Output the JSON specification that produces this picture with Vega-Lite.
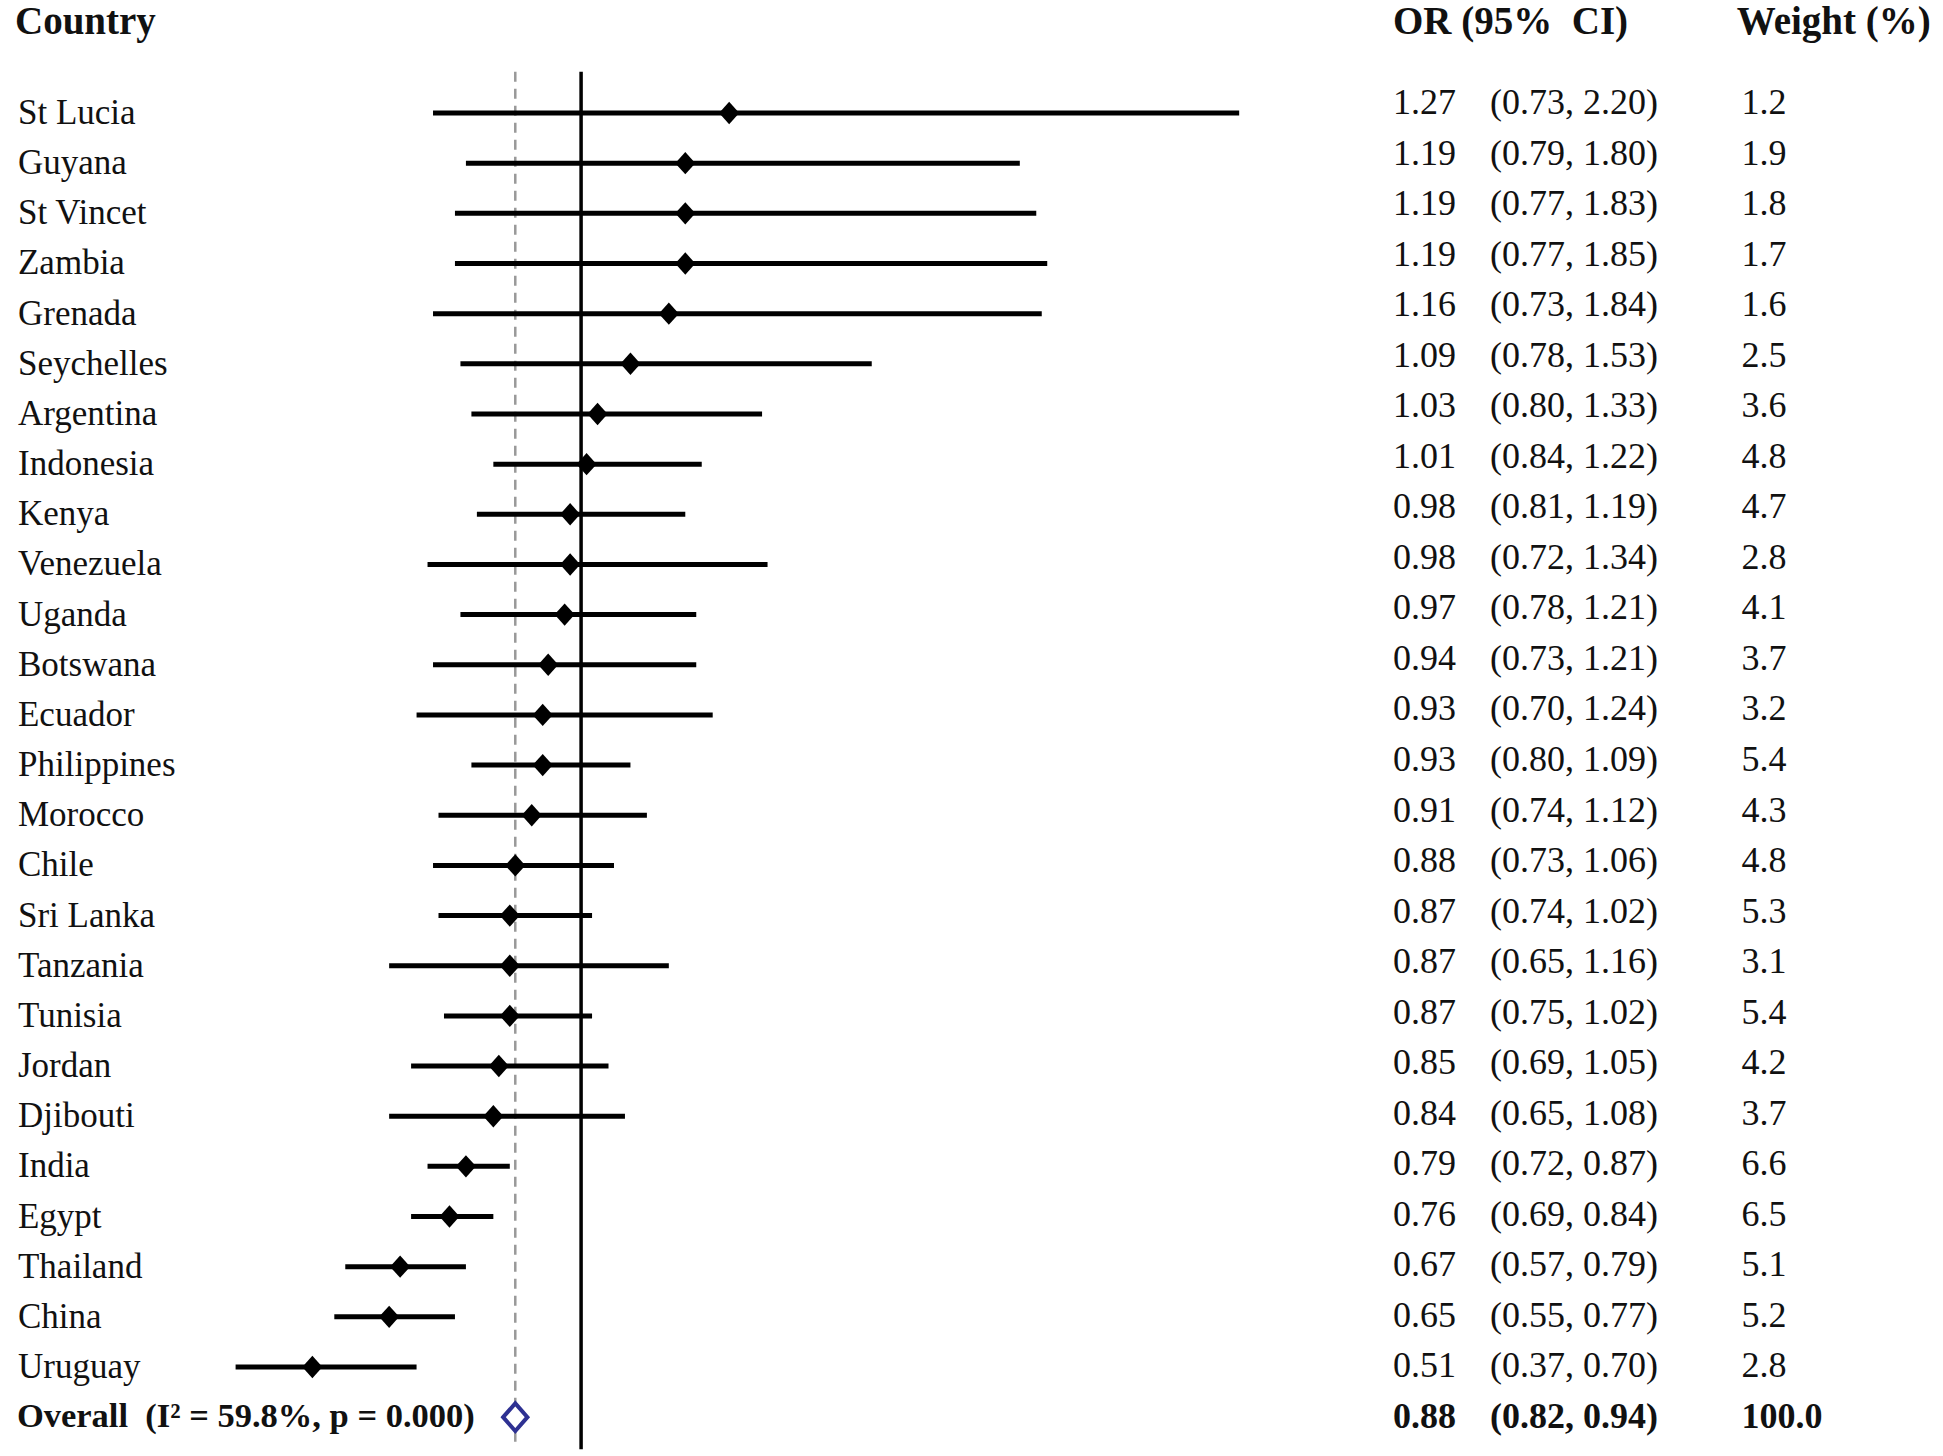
{
  "$schema": "https://vega.github.io/schema/vega-lite/v6.json",
  "width": 1943,
  "height": 1456,
  "autosize": {"type": "none"},
  "padding": 0,
  "background": "white",
  "config": {"view": {"stroke": null}, "font": "Liberation Serif", "text": {"font": "Liberation Serif"}},
  "datasets": {
    "rows": [
      {"row": 1, "country": "St Lucia", "or": 1.27, "lo": 0.73, "hi": 2.20, "ci": "(0.73, 2.20)", "weight": 1.2},
      {"row": 2, "country": "Guyana", "or": 1.19, "lo": 0.79, "hi": 1.80, "ci": "(0.79, 1.80)", "weight": 1.9},
      {"row": 3, "country": "St Vincet", "or": 1.19, "lo": 0.77, "hi": 1.83, "ci": "(0.77, 1.83)", "weight": 1.8},
      {"row": 4, "country": "Zambia", "or": 1.19, "lo": 0.77, "hi": 1.85, "ci": "(0.77, 1.85)", "weight": 1.7},
      {"row": 5, "country": "Grenada", "or": 1.16, "lo": 0.73, "hi": 1.84, "ci": "(0.73, 1.84)", "weight": 1.6},
      {"row": 6, "country": "Seychelles", "or": 1.09, "lo": 0.78, "hi": 1.53, "ci": "(0.78, 1.53)", "weight": 2.5},
      {"row": 7, "country": "Argentina", "or": 1.03, "lo": 0.80, "hi": 1.33, "ci": "(0.80, 1.33)", "weight": 3.6},
      {"row": 8, "country": "Indonesia", "or": 1.01, "lo": 0.84, "hi": 1.22, "ci": "(0.84, 1.22)", "weight": 4.8},
      {"row": 9, "country": "Kenya", "or": 0.98, "lo": 0.81, "hi": 1.19, "ci": "(0.81, 1.19)", "weight": 4.7},
      {"row": 10, "country": "Venezuela", "or": 0.98, "lo": 0.72, "hi": 1.34, "ci": "(0.72, 1.34)", "weight": 2.8},
      {"row": 11, "country": "Uganda", "or": 0.97, "lo": 0.78, "hi": 1.21, "ci": "(0.78, 1.21)", "weight": 4.1},
      {"row": 12, "country": "Botswana", "or": 0.94, "lo": 0.73, "hi": 1.21, "ci": "(0.73, 1.21)", "weight": 3.7},
      {"row": 13, "country": "Ecuador", "or": 0.93, "lo": 0.70, "hi": 1.24, "ci": "(0.70, 1.24)", "weight": 3.2},
      {"row": 14, "country": "Philippines", "or": 0.93, "lo": 0.80, "hi": 1.09, "ci": "(0.80, 1.09)", "weight": 5.4},
      {"row": 15, "country": "Morocco", "or": 0.91, "lo": 0.74, "hi": 1.12, "ci": "(0.74, 1.12)", "weight": 4.3},
      {"row": 16, "country": "Chile", "or": 0.88, "lo": 0.73, "hi": 1.06, "ci": "(0.73, 1.06)", "weight": 4.8},
      {"row": 17, "country": "Sri Lanka", "or": 0.87, "lo": 0.74, "hi": 1.02, "ci": "(0.74, 1.02)", "weight": 5.3},
      {"row": 18, "country": "Tanzania", "or": 0.87, "lo": 0.65, "hi": 1.16, "ci": "(0.65, 1.16)", "weight": 3.1},
      {"row": 19, "country": "Tunisia", "or": 0.87, "lo": 0.75, "hi": 1.02, "ci": "(0.75, 1.02)", "weight": 5.4},
      {"row": 20, "country": "Jordan", "or": 0.85, "lo": 0.69, "hi": 1.05, "ci": "(0.69, 1.05)", "weight": 4.2},
      {"row": 21, "country": "Djibouti", "or": 0.84, "lo": 0.65, "hi": 1.08, "ci": "(0.65, 1.08)", "weight": 3.7},
      {"row": 22, "country": "India", "or": 0.79, "lo": 0.72, "hi": 0.87, "ci": "(0.72, 0.87)", "weight": 6.6},
      {"row": 23, "country": "Egypt", "or": 0.76, "lo": 0.69, "hi": 0.84, "ci": "(0.69, 0.84)", "weight": 6.5},
      {"row": 24, "country": "Thailand", "or": 0.67, "lo": 0.57, "hi": 0.79, "ci": "(0.57, 0.79)", "weight": 5.1},
      {"row": 25, "country": "China", "or": 0.65, "lo": 0.55, "hi": 0.77, "ci": "(0.55, 0.77)", "weight": 5.2},
      {"row": 26, "country": "Uruguay", "or": 0.51, "lo": 0.37, "hi": 0.70, "ci": "(0.37, 0.70)", "weight": 2.8},
      {"row": 27, "country": "Overall\u00a0 (I² = 59.8%, p = 0.000)", "or": 0.88, "lo": 0.82, "hi": 0.94, "ci": "(0.82, 0.94)", "weight": 100.0, "overall": true}
    ]
  },
  "layer": [
    {
      "encoding": {
        "y": {"field": "row", "type": "quantitative", "axis": null,
              "scale": {"domain": [-1.2528, 27.774], "reverse": true, "nice": false, "zero": false}}
      },
      "layer": [
        {
          "data": {"name": "rows"},
          "transform": [{"filter": "datum.row == 27"}],
          "mark": {"type": "rule", "color": "#999999", "strokeWidth": 2.5, "strokeDash": [10, 7]},
          "encoding": {
            "x": {"field": "or", "type": "quantitative", "axis": null,
                  "scale": {"domain": [-0.0596, 3.4834], "nice": false, "zero": false}},
            "y": {"datum": 0.18, "type": "quantitative"},
            "y2": {"datum": 27.62}
          }
        },
        {
          "data": {"name": "rows"},
          "transform": [{"filter": "datum.row == 27"}],
          "mark": {"type": "rule", "color": "black", "strokeWidth": 3.5},
          "encoding": {
            "x": {"datum": 1, "type": "quantitative"},
            "y": {"datum": 0.18, "type": "quantitative"},
            "y2": {"datum": 27.64}
          }
        },
        {
          "data": {"name": "rows"},
          "transform": [{"filter": "datum.row < 27"}],
          "mark": {"type": "rule", "color": "black", "strokeWidth": 5},
          "encoding": {
            "x": {"field": "lo", "type": "quantitative"},
            "x2": {"field": "hi"},
            "y": {"field": "row", "type": "quantitative"}
          }
        },
        {
          "data": {"name": "rows"},
          "transform": [{"filter": "datum.row < 27"}],
          "mark": {"type": "point", "shape": "M-0.9,0L0,-1L0.9,0L0,1Z", "filled": true, "color": "black", "opacity": 1, "size": 500},
          "encoding": {
            "x": {"field": "or", "type": "quantitative"},
            "y": {"field": "row", "type": "quantitative"}
          }
        },
        {
          "data": {"name": "rows"},
          "transform": [{"filter": "datum.row == 27"}],
          "mark": {"type": "point", "shape": "M-0.88,0L0,-1L0.88,0L0,1Z", "filled": false, "stroke": "#2E3192", "fill": "white", "fillOpacity": 1, "strokeWidth": 4, "opacity": 1, "size": 760},
          "encoding": {
            "x": {"field": "or", "type": "quantitative"},
            "y": {"field": "row", "type": "quantitative"}
          }
        },
        {
          "data": {"name": "rows"},
          "transform": [{"filter": "datum.row < 27"}],
          "mark": {"type": "text", "align": "left", "baseline": "middle", "fontSize": 35, "color": "#111111"},
          "encoding": {
            "x": {"datum": -0.0268, "type": "quantitative"},
            "y": {"field": "row", "type": "quantitative"},
            "text": {"field": "country"}
          }
        },
        {
          "data": {"name": "rows"},
          "transform": [{"filter": "datum.row == 27"}],
          "mark": {"type": "text", "align": "left", "baseline": "middle", "fontSize": 34.5, "fontWeight": "bold", "color": "#111111"},
          "encoding": {
            "x": {"datum": -0.0288, "type": "quantitative"},
            "y": {"field": "row", "type": "quantitative"},
            "text": {"field": "country"}
          }
        },
        {
          "data": {"name": "rows"},
          "transform": [{"filter": "datum.row == 27"}],
          "mark": {"type": "text", "align": "left", "baseline": "middle", "fontSize": 39, "fontWeight": "bold", "color": "#111111"},
          "encoding": {
            "x": {"datum": -0.0323, "type": "quantitative"},
            "y": {"datum": -0.81, "type": "quantitative"},
            "text": {"value": "Country"}
          }
        }
      ]
    },
    {
      "encoding": {
        "y": {"field": "row", "type": "quantitative", "axis": null,
              "scale": {"domain": [-1.038, 27.771], "reverse": true, "nice": false, "zero": false}}
      },
      "layer": [
        {
          "data": {"name": "rows"},
          "transform": [{"filter": "datum.row < 27"}],
          "mark": {"type": "text", "align": "left", "baseline": "middle", "fontSize": 36, "color": "#111111"},
          "encoding": {
            "x": {"datum": 2.4805, "type": "quantitative"},
            "y": {"field": "row", "type": "quantitative"},
            "text": {"field": "or", "format": ".2f"}
          }
        },
        {
          "data": {"name": "rows"},
          "transform": [{"filter": "datum.row < 27"}],
          "mark": {"type": "text", "align": "left", "baseline": "middle", "fontSize": 36, "color": "#111111"},
          "encoding": {
            "x": {"datum": 2.6575, "type": "quantitative"},
            "y": {"field": "row", "type": "quantitative"},
            "text": {"field": "ci"}
          }
        },
        {
          "data": {"name": "rows"},
          "transform": [{"filter": "datum.row < 27"}],
          "mark": {"type": "text", "align": "left", "baseline": "middle", "fontSize": 36, "color": "#111111"},
          "encoding": {
            "x": {"datum": 3.116, "type": "quantitative"},
            "y": {"field": "row", "type": "quantitative"},
            "text": {"field": "weight", "format": ".1f"}
          }
        },
        {
          "data": {"name": "rows"},
          "transform": [{"filter": "datum.row == 27"}],
          "mark": {"type": "text", "align": "left", "baseline": "middle", "fontSize": 36, "fontWeight": "bold", "color": "#111111"},
          "encoding": {
            "x": {"datum": 2.4805, "type": "quantitative"},
            "y": {"field": "row", "type": "quantitative"},
            "text": {"field": "or", "format": ".2f"}
          }
        },
        {
          "data": {"name": "rows"},
          "transform": [{"filter": "datum.row == 27"}],
          "mark": {"type": "text", "align": "left", "baseline": "middle", "fontSize": 36, "fontWeight": "bold", "color": "#111111"},
          "encoding": {
            "x": {"datum": 2.6575, "type": "quantitative"},
            "y": {"field": "row", "type": "quantitative"},
            "text": {"field": "ci"}
          }
        },
        {
          "data": {"name": "rows"},
          "transform": [{"filter": "datum.row == 27"}],
          "mark": {"type": "text", "align": "left", "baseline": "middle", "fontSize": 36, "fontWeight": "bold", "color": "#111111"},
          "encoding": {
            "x": {"datum": 3.116, "type": "quantitative"},
            "y": {"field": "row", "type": "quantitative"},
            "text": {"field": "weight", "format": ".1f"}
          }
        },
        {
          "data": {"name": "rows"},
          "transform": [{"filter": "datum.row == 27"}],
          "mark": {"type": "text", "align": "left", "baseline": "middle", "fontSize": 39, "fontWeight": "bold", "color": "#111111"},
          "encoding": {
            "x": {"datum": 2.4805, "type": "quantitative"},
            "y": {"datum": -0.6, "type": "quantitative"},
            "text": {"value": "OR (95%\u00a0 CI)"}
          }
        },
        {
          "data": {"name": "rows"},
          "transform": [{"filter": "datum.row == 27"}],
          "mark": {"type": "text", "align": "left", "baseline": "middle", "fontSize": 39, "fontWeight": "bold", "color": "#111111"},
          "encoding": {
            "x": {"datum": 3.1074, "type": "quantitative"},
            "y": {"datum": -0.6, "type": "quantitative"},
            "text": {"value": "Weight (%)"}
          }
        }
      ]
    }
  ],
  "resolve": {"scale": {"y": "independent"}}
}
